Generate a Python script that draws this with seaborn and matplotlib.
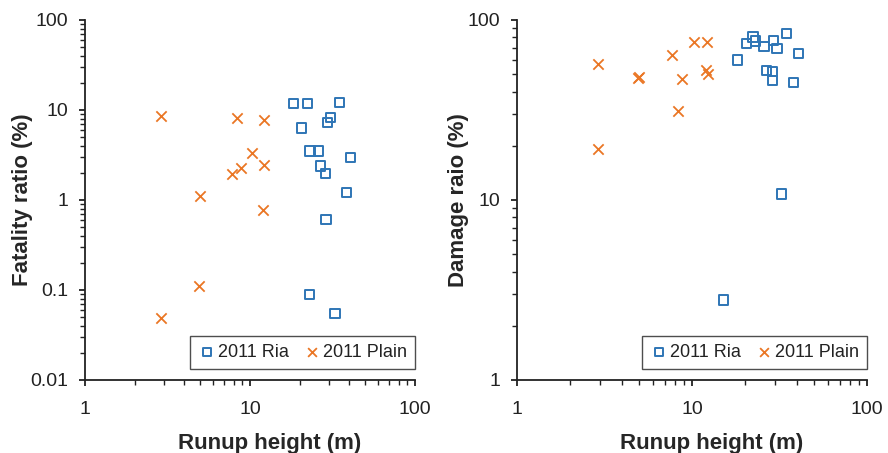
import matplotlib
matplotlib.use("Agg")
import matplotlib.pyplot as plt
import matplotlib.ticker as mticker
import seaborn as sns

# --- Data ---
# Fatality ratio panel
ria_fat_x = [18.3, 22.4, 35.0, 30.8, 29.4, 20.6, 23.1, 25.9, 40.8, 26.8, 28.7, 38.3, 28.9, 22.9, 32.7]
ria_fat_y = [11.8, 11.8, 12.2, 8.3, 7.2, 6.3, 3.5, 3.5, 2.95, 2.39, 1.96, 1.2, 0.61, 0.089, 0.055]
plain_fat_x = [2.89, 8.3, 12.2, 10.3, 12.2, 8.8, 7.74, 5.0, 12.0, 4.9, 2.89]
plain_fat_y = [8.64, 8.08, 7.68, 3.36, 2.45, 2.29, 1.93, 1.12, 0.77, 0.112, 0.049]

# Damage ratio panel
ria_dam_x = [18.2, 20.5, 22.3, 23.1, 25.8, 29.3, 30.6, 34.6, 40.5, 26.7, 28.8, 28.9, 37.9, 32.6, 15.1]
ria_dam_y = [60.0, 74.2, 80.5, 76.5, 71.4, 76.8, 69.6, 84.4, 65.3, 52.3, 51.6, 46.0, 44.8, 10.8, 2.78]
plain_dam_x = [2.92, 4.93, 5.0, 7.72, 10.3, 12.2, 8.8, 12.1, 12.3, 8.35, 2.92]
plain_dam_y = [56.7, 47.4, 48.0, 63.7, 75.5, 75.5, 47.0, 52.8, 50.0, 31.2, 19.1]

labels = ["2011 Ria", "2011 Plain"]
x_label = "Runup height (m)"
y_labels = ["Fatality ratio (%)", "Damage raio (%)"]
y_limits = [(0.01, 100), (1, 100)]

BLUE = "#2E75B6"
ORANGE = "#EA7624"
INK = "#222222"

sns.set_style("ticks")
plt.rcParams["font.family"] = ["Liberation Sans", "DejaVu Sans"]


def style_axis(ax, ylab, ylim, ylab_x, xlab_x):
    ax.set_xscale("log")
    ax.set_yscale("log")
    ax.set_xlim(1, 100)
    ax.set_ylim(*ylim)
    fmt = mticker.FuncFormatter(lambda v, p: f"{v:g}")
    ax.xaxis.set_major_formatter(fmt)
    ax.yaxis.set_major_formatter(fmt)
    ax.xaxis.set_minor_locator(mticker.LogLocator(base=10, subs=range(2, 10)))
    ax.yaxis.set_minor_locator(mticker.LogLocator(base=10, subs=range(2, 10)))
    ax.xaxis.set_minor_formatter(mticker.NullFormatter())
    ax.yaxis.set_minor_formatter(mticker.NullFormatter())
    for side in ["top", "right"]:
        ax.spines[side].set_visible(False)
    for side in ["left", "bottom"]:
        ax.spines[side].set_color(INK)
        ax.spines[side].set_linewidth(1.3)
    ax.tick_params(which="both", bottom=True, left=True, direction="out")
    ax.tick_params(which="major", length=4.3, width=1.3, color=INK,
                   labelsize=14, labelcolor=INK)
    ax.tick_params(which="minor", length=3.5, width=1.0, color=INK)
    ax.tick_params(axis="x", which="major", pad=11)
    ax.tick_params(axis="y", which="major", pad=7.5)
    ax.set_xlabel(x_label, fontsize=16, fontweight="bold")
    ax.set_ylabel(ylab, fontsize=16, fontweight="bold")
    ax.xaxis.set_label_coords(xlab_x, -0.147)
    ax.yaxis.set_label_coords(ylab_x, 0.5)
    ax.grid(False)


fig = plt.figure(figsize=(8.88, 4.53), dpi=100)
ax1 = fig.add_axes([85 / 888, 1 - 380 / 453, 330 / 888, 360 / 453])
ax2 = fig.add_axes([517 / 888, 1 - 380 / 453, 350 / 888, 360 / 453])

panels = [
    (ax1, ria_fat_x, ria_fat_y, plain_fat_x, plain_fat_y, -0.158, 0.559),
    (ax2, ria_dam_x, ria_dam_y, plain_dam_x, plain_dam_y, -0.137, 0.556),
]

for i, (ax, rx, ry, px, py, ylx, xlx) in enumerate(panels):
    sns.scatterplot(x=rx, y=ry, ax=ax, marker="s", s=44, color=BLUE,
                    facecolor="none", edgecolor=BLUE, linewidth=1.4,
                    label=labels[0], zorder=3)
    sns.scatterplot(x=px, y=py, ax=ax, marker="x", s=55, color=ORANGE,
                    linewidth=1.3, label=labels[1], zorder=3)
    style_axis(ax, y_labels[i], y_limits[i], ylx, xlx)
    leg = ax.legend(loc="lower right", bbox_to_anchor=(1.0, 0.03), ncol=2,
                    frameon=True, fancybox=False, fontsize=13,
                    borderaxespad=0, handletextpad=0.1, columnspacing=0.8,
                    markerscale=0.85, borderpad=0.45, handlelength=1.0)
    leg.get_frame().set_edgecolor(INK)
    leg.get_frame().set_linewidth(1.0)
    for t in leg.get_texts():
        t.set_color(INK)

fig.savefig("out.png", dpi=100)
